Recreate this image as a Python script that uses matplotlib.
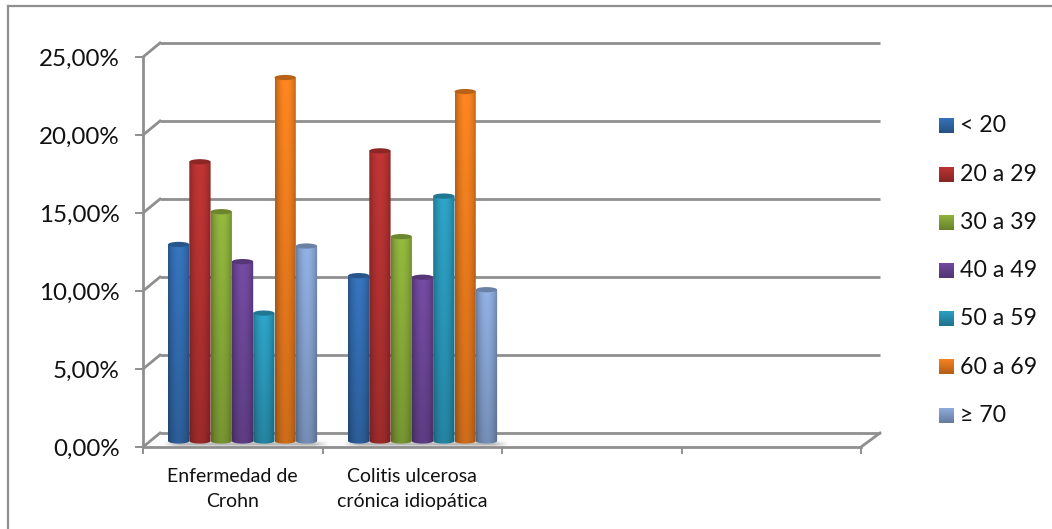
import numpy as np
import matplotlib
matplotlib.use("Agg")
import matplotlib.pyplot as plt
from matplotlib.lines import Line2D
from matplotlib.patches import Ellipse, Polygon

categories = ["Enfermedad de\nCrohn", "Colitis ulcerosa\ncrónica idiopática"]
age_groups = ["< 20", "20 a 29", "30 a 39", "40 a 49", "50 a 59", "60 a 69", "≥ 70"]
crohn = [12.6, 17.9, 14.7, 11.5, 8.2, 23.3, 12.5]
colitis = [10.6, 18.6, 13.1, 10.5, 15.7, 22.4, 9.7]
y_ticks = [0, 5, 10, 15, 20, 25]
colors = ["#3571b8", "#bb3433", "#8fb33c", "#71499e", "#2c9fc2", "#f7821f", "#8dabdc"]

W, H = 1052, 529
GREY = "#8f8f8f"
plt.rcParams["font.family"] = ["Lato", "DejaVu Sans"]

fig = plt.figure(figsize=(W / 100, H / 100), dpi=100)


def add_axes_px(x0, y_top, x1, y_bottom):
    return fig.add_axes([x0 / W, 1 - y_bottom / H, (x1 - x0) / W, (y_bottom - y_top) / H])


# front plane of the 3d box
ax = add_axes_px(143, 57, 861, 447)
ax.set_xlim(0, 4)
ax.set_ylim(0, 25)
ax.patch.set_visible(False)
px_x = 718 / 4
px_y = 390 / 25

for s in ["top", "right"]:
    ax.spines[s].set_visible(False)
for s in ["left", "bottom"]:
    ax.spines[s].set_color(GREY)
    ax.spines[s].set_linewidth(2)

ax.set_yticks(y_ticks)
ax.set_yticklabels(["%d,00%%" % v for v in y_ticks], fontsize=17.4, color="#111111")
ax.set_xticks([0, 1, 2, 3, 4])
ax.set_xticklabels([])
ax.set_xticks([0.5, 1.5], categories, minor=True, fontsize=14, color="#111111", linespacing=1.55)
ax.tick_params(axis="y", length=6, width=1.4, color=GREY, pad=11)
ax.tick_params(axis="x", which="major", length=5, width=1.4, color=GREY)
ax.tick_params(axis="x", which="minor", length=0, pad=15)

# back wall and floor
back_dx = 17 / px_x
back_dy = 14 / px_y
right_end = 4 + 19 / px_x
for v in y_ticks:
    ax.plot([back_dx, right_end], [v + back_dy, v + back_dy], color=GREY, lw=2, clip_on=False,
            zorder=1, solid_capstyle="butt")
    ax.plot([0, back_dx], [v, v + back_dy], color=GREY, lw=2, clip_on=False, zorder=1)
ax.plot([4, right_end], [0, back_dy], color=GREY, lw=2, clip_on=False, zorder=1)
ax.add_patch(Polygon([[0, 0], [back_dx, back_dy], [right_end, back_dy], [4, 0]],
                     facecolor="#fcfcfc", edgecolor="none", zorder=0.5))


def shaded(color, nx=40, ny=200):
    # light falls on the middle of the cylinder, it gets darker towards the base
    rgb = np.array(matplotlib.colors.to_rgb(color))
    t = np.linspace(0, 1, nx)
    across = 0.74 + 0.30 * np.sin(np.pi * t) ** 0.8
    down = np.linspace(1.0, 0.80, ny)
    img = rgb[None, None, :] * across[None, :, None] * down[:, None, None]
    return np.clip(img, 0, 1)


bar_w = 21.3 / px_x
base = 6 / px_y
ry = 2.6 / px_y
first_bar = [(168 - 143) / px_x, (348 - 143) / px_x]

for g, values in enumerate([crohn, colitis]):
    x_start = first_bar[g]
    # soft shadow on the floor
    shadow = np.zeros((12, 200, 4))
    shadow[:, :, :3] = 0.45
    shadow[:, :, 3] = (np.sin(np.linspace(0, np.pi, 12)) ** 2)[:, None] * 0.5
    shadow[:, :20, 3] *= np.linspace(0, 1, 20)
    shadow[:, -20:, 3] *= np.linspace(1, 0, 20)
    ax.imshow(shadow, extent=(x_start - 0.03, x_start + 7 * bar_w + 0.06, -0.05, base + 0.05),
              aspect="auto", zorder=1.5, interpolation="bilinear", clip_on=False)
    for i, v in enumerate(values):
        xl = x_start + i * bar_w
        xr = xl + bar_w
        top = base + v
        img = ax.imshow(shaded(colors[i]), extent=(xl, xr, base - ry, top), aspect="auto",
                        zorder=2 + i * 0.01, interpolation="bilinear", clip_on=True)
        # rounded base of the cylinder
        a = np.linspace(np.pi, 2 * np.pi, 30)
        outline = np.column_stack([(xl + xr) / 2 + bar_w / 2 * np.cos(a), base + ry * np.sin(a)])
        outline = np.vstack([outline, [xr, top], [xl, top]])
        clip = Polygon(outline, transform=ax.transData)
        img.set_clip_path(clip)
        lid = np.array(matplotlib.colors.to_rgb(colors[i])) * 0.75
        ax.add_patch(Ellipse(((xl + xr) / 2, top), bar_w, 2 * ry, facecolor=lid, edgecolor="none",
                             zorder=2.005 + i * 0.01, clip_on=False))

ax.set_xlim(0, 4)
ax.set_ylim(0, 25)

# legend column
lax = add_axes_px(930, 100, 1052, 440)
lax.set_xlim(930, 1052)
lax.set_ylim(440, 100)
lax.axis("off")
for i, label in enumerate(age_groups):
    yc = 126 + i * 48.2
    rgb = np.array(matplotlib.colors.to_rgb(colors[i]))
    swatch = rgb[None, None, :] * np.linspace(1.0, 0.72, 30)[:, None, None]
    lax.imshow(swatch, extent=(939, 954, yc + 7.5, yc - 7.5), aspect="auto", interpolation="bilinear")
    lax.text(960, yc, label, fontsize=16.7, va="center", ha="left", color="#111111")
lax.set_xlim(930, 1052)
lax.set_ylim(440, 100)

# chart area border (only top and left are visible)
fig.add_artist(Line2D([8 / W, 8 / W], [0, 1 - 6 / H], color=GREY, lw=1.6))
fig.add_artist(Line2D([8 / W, 1], [1 - 6 / H, 1 - 6 / H], color=GREY, lw=1.6))

fig.savefig("out.png", dpi=100)
